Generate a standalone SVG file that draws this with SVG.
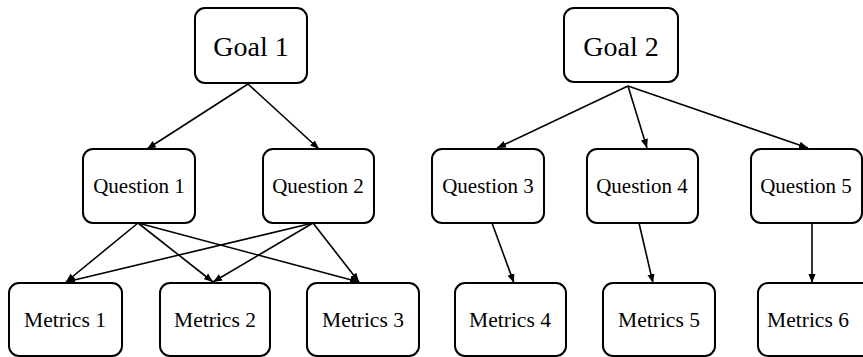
<svg xmlns="http://www.w3.org/2000/svg" width="863" height="357" viewBox="0 0 863 357">
<defs>
<style>
.box{fill:#fff;stroke:#000;stroke-width:2}
.g{font-size:28px}
.q{font-size:21px}
.m{font-size:21.5px}
.e{stroke:#000;stroke-width:1.6;fill:none;marker-end:url(#ah)}
</style>
<marker id="ah" viewBox="0 0 10 10" refX="10" refY="5" markerWidth="9" markerHeight="9" markerUnits="userSpaceOnUse" orient="auto">
<path d="M0,1 L10,5 L0,9 Z" fill="#000"/>
</marker>
</defs>
<rect width="863" height="357" fill="#fff"/>
<g id="connectors">
<line class="e" x1="248" y1="84" x2="147" y2="149"/>
<line class="e" x1="248" y1="84" x2="319" y2="149"/>
<line class="e" x1="628" y1="86" x2="497" y2="148"/>
<line class="e" x1="628" y1="86" x2="647" y2="148"/>
<line class="e" x1="628" y1="86" x2="808" y2="148"/>
<line class="e" x1="138" y1="223" x2="66" y2="282"/>
<line class="e" x1="138" y1="223" x2="213" y2="282"/>
<line class="e" x1="138" y1="223" x2="359" y2="282"/>
<line class="e" x1="313" y1="223" x2="66" y2="282"/>
<line class="e" x1="313" y1="223" x2="213" y2="282"/>
<line class="e" x1="313" y1="223" x2="359" y2="282"/>
<line class="e" x1="492" y1="223" x2="514" y2="283"/>
<line class="e" x1="639" y1="223" x2="653" y2="283"/>
<line class="e" x1="812" y1="223" x2="812" y2="283"/>
</g>
<g font-family="Liberation Serif, Times New Roman, serif" text-anchor="middle" fill="#000">
<g id="goal1"><rect class="box" x="195" y="8" width="112" height="75" rx="10"/><text class="g" x="251" y="56">Goal 1</text></g>
<g id="goal2"><rect class="box" x="564" y="8" width="114" height="74" rx="10"/><text class="g" x="621" y="56">Goal 2</text></g>
<g id="question1"><rect class="box" x="83" y="149" width="112" height="74" rx="10"/><text class="q" x="139" y="193">Question 1</text></g>
<g id="question2"><rect class="box" x="263" y="149" width="111" height="74" rx="10"/><text class="q" x="318" y="193">Question 2</text></g>
<g id="question3"><rect class="box" x="432" y="149" width="112" height="74" rx="10"/><text class="q" x="488" y="193">Question 3</text></g>
<g id="question4"><rect class="box" x="587" y="149" width="111" height="74" rx="10"/><text class="q" x="642" y="193">Question 4</text></g>
<g id="question5"><rect class="box" x="751" y="149" width="111" height="74" rx="10"/><text class="q" x="806" y="193">Question 5</text></g>
<g id="metrics1"><rect class="box" x="9" y="283" width="113" height="73" rx="10"/><text class="m" x="65" y="327">Metrics 1</text></g>
<g id="metrics2"><rect class="box" x="160" y="283" width="110" height="73" rx="10"/><text class="m" x="215" y="327">Metrics 2</text></g>
<g id="metrics3"><rect class="box" x="307" y="283" width="112" height="73" rx="10"/><text class="m" x="363" y="327">Metrics 3</text></g>
<g id="metrics4"><rect class="box" x="455" y="283" width="111" height="73" rx="10"/><text class="m" x="510" y="327">Metrics 4</text></g>
<g id="metrics5"><rect class="box" x="603" y="283" width="112" height="73" rx="10"/><text class="m" x="659" y="327">Metrics 5</text></g>
<g id="metrics6"><rect class="box" x="758" y="283" width="115" height="73" rx="10"/><text class="m" x="808" y="327">Metrics 6</text></g>
</g>
</svg>
